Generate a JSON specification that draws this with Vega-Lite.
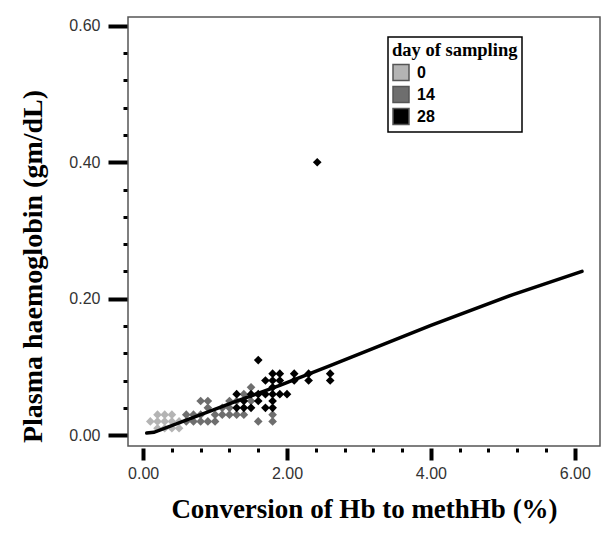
{
  "$schema": "https://vega.github.io/schema/vega-lite/v6.json",
  "autosize": {"type": "none"},
  "width": 472,
  "height": 429,
  "padding": {"left": 128, "top": 17, "right": 14, "bottom": 92},
  "background": "white",
  "config": {
    "view": {"stroke": "#555", "strokeWidth": 1.5},
    "axis": {
      "grid": false,
      "domain": false,
      "labelFont": "Liberation Sans",
      "labelFontSize": 16,
      "labelColor": "#333",
      "tickColor": "black",
      "tickCap": "butt",
      "titleFont": "Liberation Serif",
      "titleFontWeight": "bold",
      "titleColor": "black"
    }
  },
  "datasets": {
    "points": [
      {"conv": 0.1, "hb": 0.02, "day": "0"},
      {"conv": 0.2, "hb": 0.02, "day": "0"},
      {"conv": 0.2, "hb": 0.03, "day": "0"},
      {"conv": 0.2, "hb": 0.01, "day": "0"},
      {"conv": 0.3, "hb": 0.02, "day": "0"},
      {"conv": 0.3, "hb": 0.03, "day": "0"},
      {"conv": 0.3, "hb": 0.01, "day": "0"},
      {"conv": 0.4, "hb": 0.02, "day": "0"},
      {"conv": 0.4, "hb": 0.03, "day": "0"},
      {"conv": 0.4, "hb": 0.01, "day": "0"},
      {"conv": 0.5, "hb": 0.02, "day": "0"},
      {"conv": 0.5, "hb": 0.01, "day": "0"},
      {"conv": 0.6, "hb": 0.03, "day": "14"},
      {"conv": 0.6, "hb": 0.02, "day": "14"},
      {"conv": 0.7, "hb": 0.03, "day": "14"},
      {"conv": 0.7, "hb": 0.02, "day": "14"},
      {"conv": 0.8, "hb": 0.02, "day": "14"},
      {"conv": 0.8, "hb": 0.03, "day": "14"},
      {"conv": 0.8, "hb": 0.05, "day": "14"},
      {"conv": 0.9, "hb": 0.05, "day": "14"},
      {"conv": 0.9, "hb": 0.04, "day": "14"},
      {"conv": 0.9, "hb": 0.02, "day": "14"},
      {"conv": 1.0, "hb": 0.03, "day": "14"},
      {"conv": 1.0, "hb": 0.02, "day": "14"},
      {"conv": 1.1, "hb": 0.03, "day": "14"},
      {"conv": 1.1, "hb": 0.04, "day": "14"},
      {"conv": 1.2, "hb": 0.03, "day": "14"},
      {"conv": 1.2, "hb": 0.04, "day": "14"},
      {"conv": 1.2, "hb": 0.05, "day": "14"},
      {"conv": 1.3, "hb": 0.03, "day": "14"},
      {"conv": 1.3, "hb": 0.05, "day": "14"},
      {"conv": 1.4, "hb": 0.03, "day": "14"},
      {"conv": 1.4, "hb": 0.06, "day": "14"},
      {"conv": 1.5, "hb": 0.07, "day": "14"},
      {"conv": 1.5, "hb": 0.05, "day": "14"},
      {"conv": 1.6, "hb": 0.02, "day": "14"},
      {"conv": 1.8, "hb": 0.02, "day": "14"},
      {"conv": 1.8, "hb": 0.03, "day": "14"},
      {"conv": 1.3, "hb": 0.04, "day": "28"},
      {"conv": 1.4, "hb": 0.04, "day": "28"},
      {"conv": 1.5, "hb": 0.04, "day": "28"},
      {"conv": 1.3, "hb": 0.06, "day": "28"},
      {"conv": 1.4, "hb": 0.05, "day": "28"},
      {"conv": 1.5, "hb": 0.06, "day": "28"},
      {"conv": 1.6, "hb": 0.05, "day": "28"},
      {"conv": 1.6, "hb": 0.06, "day": "28"},
      {"conv": 1.6, "hb": 0.11, "day": "28"},
      {"conv": 1.7, "hb": 0.06, "day": "28"},
      {"conv": 1.7, "hb": 0.04, "day": "28"},
      {"conv": 1.8, "hb": 0.04, "day": "28"},
      {"conv": 1.8, "hb": 0.05, "day": "28"},
      {"conv": 1.8, "hb": 0.06, "day": "28"},
      {"conv": 1.8, "hb": 0.07, "day": "28"},
      {"conv": 1.8, "hb": 0.08, "day": "28"},
      {"conv": 1.8, "hb": 0.09, "day": "28"},
      {"conv": 1.7, "hb": 0.08, "day": "28"},
      {"conv": 1.9, "hb": 0.06, "day": "28"},
      {"conv": 1.9, "hb": 0.08, "day": "28"},
      {"conv": 1.9, "hb": 0.09, "day": "28"},
      {"conv": 2.0, "hb": 0.06, "day": "28"},
      {"conv": 2.1, "hb": 0.09, "day": "28"},
      {"conv": 2.1, "hb": 0.08, "day": "28"},
      {"conv": 2.3, "hb": 0.09, "day": "28"},
      {"conv": 2.3, "hb": 0.08, "day": "28"},
      {"conv": 2.6, "hb": 0.09, "day": "28"},
      {"conv": 2.6, "hb": 0.08, "day": "28"},
      {"conv": 2.42, "hb": 0.40, "day": "28"}
    ],
    "fit": [
      {"conv": 0.05, "hb": 0.003},
      {"conv": 0.15, "hb": 0.004},
      {"conv": 1.28, "hb": 0.049},
      {"conv": 1.9, "hb": 0.073},
      {"conv": 2.6, "hb": 0.102},
      {"conv": 4.0, "hb": 0.161},
      {"conv": 5.14, "hb": 0.206},
      {"conv": 6.1, "hb": 0.24}
    ]
  },
  "encoding": {
    "x": {
      "field": "conv",
      "type": "quantitative",
      "scale": {"domain": [-0.21, 6.35], "nice": false, "zero": false},
      "axis": {
        "title": "Conversion of Hb to methHb (%)",
        "titleFontSize": 27,
        "values": [0, 0.4, 0.8, 1.2, 1.6, 2, 2.4, 2.8, 3.2, 3.6, 4, 4.4, 4.8, 5.2, 5.6, 6],
        "labelExpr": "abs(datum.value/2 - round(datum.value/2)) < 0.001 ? format(datum.value, '.2f') : ''",
        "offset": 2,
        "labelPadding": 5,
        "tickSize": {"condition": {"test": "abs(datum.value/2 - round(datum.value/2)) < 0.001", "value": 12}, "value": 4},
        "tickWidth": {"condition": {"test": "abs(datum.value/2 - round(datum.value/2)) < 0.001", "value": 4}, "value": 3},
        "titleX": 236,
        "titleY": 69,
        "titleBaseline": "alphabetic"
      }
    },
    "y": {
      "field": "hb",
      "type": "quantitative",
      "scale": {"domain": [-0.016, 0.613], "nice": false, "zero": false},
      "axis": {
        "title": "Plasma haemoglobin (gm/dL)",
        "titleFontSize": 28,
        "values": [0, 0.04, 0.08, 0.12, 0.16, 0.2, 0.24, 0.28, 0.32, 0.36, 0.4, 0.44, 0.48, 0.52, 0.56, 0.6],
        "labelExpr": "abs(datum.value*5 - round(datum.value*5)) < 0.001 ? format(datum.value, '.2f') : ''",
        "offset": 1,
        "labelPadding": 8,
        "tickSize": {"condition": {"test": "abs(datum.value*5 - round(datum.value*5)) < 0.001", "value": 19}, "value": 4},
        "tickWidth": {"condition": {"test": "abs(datum.value*5 - round(datum.value*5)) < 0.001", "value": 4}, "value": 3},
        "titleX": -86,
        "titleY": 249,
        "titleBaseline": "alphabetic"
      }
    }
  },
  "layer": [
    {
      "data": {"name": "points"},
      "mark": {"type": "point", "shape": "diamond", "filled": true, "opacity": 1, "size": 75},
      "encoding": {
        "color": {
          "field": "day",
          "type": "ordinal",
          "scale": {"domain": ["0", "14", "28"], "range": ["#b4b4b4", "#6e6e6e", "#000000"]},
          "legend": {
            "title": "day of sampling",
            "orient": "none",
            "legendX": 260,
            "legendY": 20,
            "symbolType": "square",
            "symbolSize": 256,
            "symbolStrokeColor": "#555",
            "symbolStrokeWidth": 1.5,
            "symbolOpacity": 1,
            "labelFont": "Liberation Sans",
            "labelFontWeight": "bold",
            "labelFontSize": 16,
            "labelColor": "black",
            "labelOffset": 7,
            "titleFont": "Liberation Serif",
            "titleFontWeight": "bold",
            "titleFontSize": 18.5,
            "titleColor": "black",
            "titlePadding": 4,
            "rowPadding": 0,
            "padding": 4,
            "strokeColor": "black",
            "fillColor": "white",
            "encode": {"legend": {"update": {"strokeWidth": {"value": 1.5}}}}
          }
        }
      }
    },
    {
      "data": {"name": "fit"},
      "mark": {"type": "line", "color": "black", "strokeWidth": 3.5, "strokeCap": "round"},
      "encoding": {}
    }
  ]
}
